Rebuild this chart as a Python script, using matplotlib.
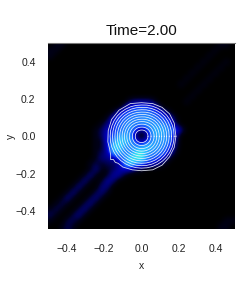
#!/usr/bin/env python3
import matplotlib
matplotlib.use("Agg")
import matplotlib.pyplot as plt
from matplotlib.colors import LinearSegmentedColormap
import numpy as np

plt.rcParams["font.family"] = ["Liberation Sans", "DejaVu Sans"]

# field on a coarse grid, top row first (hex digits 0-f)
rows = [
    "0110000000 0000000000 0000000000 110",
    "1100000000 0000000000 0000000001 000",
    "1000000000 0000000000 0000000010 000",
    "0000000000 0000000000 0000000100 010",
    "0000000000 0000000000 0000001000 100",
    "0000000000 0000000000 0000010001 000",
    "0000000000 0000000000 0000100010 000",
    "0000000000 0000000000 0001000100 000",
    "0000000000 0000000000 0000001000 000",
    "0000000000 0000000000 0000010000 000",
    "0000000000 0000233320 0000100000 000",
    "0000000000 0003678763 0000000000 000",
    "0000000000 0157899987 5100000000 000",
    "0000000000 1578999a98 7610000000 000",
    "0000000001 3689a9aaaa 9820000000 000",
    "0000000012 5689a727bb b983000000 000",
    "0000000012 67aba202bb a940000000 000",
    "0000000011 69dcb727aa a930000000 000",
    "0000000011 5dda9abdba 9720000000 000",
    "0000000012 4bb99dea99 8510000000 000",
    "0000000013 3479def987 5100000000 000",
    "0000000121 2239da8653 1000000000 000",
    "0000000131 1245421000 0000000000 000",
    "0000001310 1441000000 0000000000 000",
    "0000013101 4300000000 0000000000 000",
    "0000131003 3000000000 0000000000 000",
    "0001310023 1000000000 0000000000 000",
    "0013100231 0000000000 0000000000 000",
    "0121002310 0000000000 0000000000 000",
    "1210023100 0000000000 0000000000 000",
    "2100231000 0000000000 0000000000 000",
    "1002210000 0000000000 0000000000 011",
    "0012100000 0000000000 0000000000 110",
]

# white rings: radii of the nested contours and their shape by angle
ring_radii = [0.171, 0.158, 0.145, 0.132, 0.119, 0.106, 0.093, 0.080, 0.066, 0.050, 0.034]
shape_deg = [0, 45, 90, 135, 180, 225, 270, 315, 360]
shape_fac = [1.02, 1.03, 0.98, 0.99, 0.98, 1.00, 1.00, 1.02, 1.02]
# outermost contour with the notch at lower left
outer_x = [0.184, 0.175, 0.15, 0.11, 0.06, 0.0, -0.06, -0.12, -0.16, -0.178, -0.18, -0.17, -0.165, -0.165,
           -0.15, -0.14, -0.125, -0.10, -0.05, 0.0, 0.06, 0.11, 0.15, 0.175, 0.184]
outer_y = [0.0, 0.07, 0.12, 0.155, 0.175, 0.18, 0.175, 0.14, 0.09, 0.03, -0.03, -0.07, -0.10, -0.125,
           -0.125, -0.14, -0.145, -0.165, -0.18, -0.185, -0.18, -0.155, -0.11, -0.06, 0.0]
x_ticks = [-0.4, -0.2, 0.0, 0.2, 0.4]

cmap = LinearSegmentedColormap.from_list("disk", [
    (0.0, "#000000"), (0.07, "#00001a"), (0.13, "#000050"), (0.2, "#000080"), (0.33, "#0000c0"), (0.45, "#0a30f5"),
    (0.6, "#2080ff"), (0.8, "#28c8ff"), (0.93, "#3cf0e6"), (1.0, "#90ffc8")])

field = np.array([[int(c, 16) for c in r.replace(" ", "")] for r in rows], dtype=float) / 15

fig = plt.figure(figsize=(2.41, 2.87), dpi=100)
ax = fig.add_axes([48 / 241, 1 - 229.5 / 287, 187 / 241, 186.5 / 287])
ax.imshow(field, cmap=cmap, vmin=0, vmax=1, extent=(-0.5, 0.5, -0.5, 0.5), interpolation="bicubic", aspect="auto")
ang = np.radians(np.arange(0, 361, 10))
fac = np.interp(np.degrees(ang), shape_deg, shape_fac)
for r in ring_radii:
    ax.plot(r * fac * np.cos(ang), r * fac * np.sin(ang), color="#eef2fa", lw=0.55)
ax.plot(outer_x, outer_y, color="#d8dce8", lw=0.6)
ax.set_xlim(-0.5, 0.5)
ax.set_ylim(-0.5, 0.5)
ax.set_xticks(x_ticks)
ax.set_yticks(x_ticks)
ax.tick_params(length=0, labelsize=7.5, pad=9, labelcolor="#222222")
ax.tick_params(axis="x", pad=10.5)
for s in ("left", "right", "bottom"):
    ax.spines[s].set_visible(False)
ax.spines["top"].set_color("#777777")
ax.spines["top"].set_linewidth(0.8)
ax.set_xlabel("x", fontsize=7.5, labelpad=5, color="#222222")
ax.set_ylabel("y", fontsize=7.5, labelpad=-1, color="#222222")
ax.set_title("Time=2.00", fontsize=11, pad=5.5, color="#111111")
fig.savefig("out.png", dpi=100)
